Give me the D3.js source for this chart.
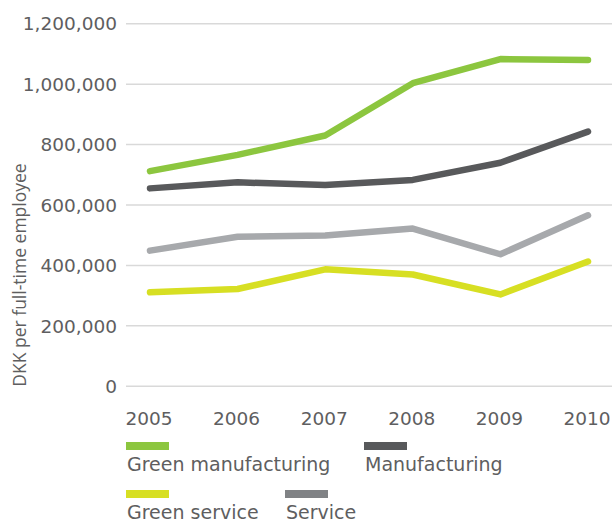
<!DOCTYPE html>
<html>
<head>
<meta charset="utf-8">
<script src="https://cdn.jsdelivr.net/npm/d3@7"></script>
<style>
  html, body { margin: 0; padding: 0; background: #fff; }
  svg { display: block; }
  text { font-family: "DejaVu Sans", sans-serif; fill: #5e5e60; }
</style>
</head>
<body>
<svg id="chart" width="614" height="522"></svg>
<script>
// Years on the x axis
const years = ["2005", "2006", "2007", "2008", "2009", "2010"];

// DKK per full-time employee, by sector
const greenManufacturing = [712000, 766000, 830000, 1003000, 1083000, 1080000];
const manufacturing      = [655000, 675000, 666000, 683000, 740000, 843000];
const service            = [449000, 495000, 499000, 522000, 437000, 566000];
const greenService       = [311000, 322000, 387000, 370000, 304000, 413000];

const yTicks = [0, 200000, 400000, 600000, 800000, 1000000, 1200000];

const seriesNames  = ["Green manufacturing", "Manufacturing", "Green service", "Service"];
const seriesValues = [greenManufacturing, manufacturing, greenService, service];
const lineColors   = ["#8cc63f", "#58595b", "#d7df23", "#a7a9ac"];
const swatchColors = ["#8cc63f", "#58595b", "#d7df23", "#808285"];

const svg = d3.select("#chart");

const x = d3.scalePoint().domain(years).range([150, 588]);
const y = d3.scaleLinear().domain([0, 1200000]).range([386.3, 23.7]);

// Horizontal gridlines
svg.append("g")
  .selectAll("line")
  .data(yTicks)
  .join("line")
  .attr("x1", 126).attr("x2", 612)
  .attr("y1", d => y(d)).attr("y2", d => y(d))
  .attr("stroke", "#d9d9d9")
  .attr("stroke-width", 1.5);

// Y tick labels
svg.append("g")
  .selectAll("text")
  .data(yTicks)
  .join("text")
  .attr("x", 117)
  .attr("y", d => y(d))
  .attr("dy", "0.36em")
  .attr("text-anchor", "end")
  .style("font-size", "18.5px")
  .text(d => d3.format(",")(d));

// X tick labels
svg.append("g")
  .selectAll("text")
  .data(years)
  .join("text")
  .attr("x", d => x(d) - 1)
  .attr("y", 425)
  .attr("text-anchor", "middle")
  .style("font-size", "18.5px")
  .text(d => d);

// Y axis title
svg.append("text")
  .attr("transform", "translate(26,275) rotate(-90)")
  .attr("text-anchor", "middle")
  .style("font-family", "'Open Sans', sans-serif")
  .style("font-size", "17.5px")
  .text("DKK per full-time employee");

// Series lines
const line = d3.line()
  .x((d, i) => x(years[i]))
  .y(d => y(d));

svg.append("g")
  .selectAll("path")
  .data(seriesValues)
  .join("path")
  .attr("d", d => line(d))
  .attr("fill", "none")
  .attr("stroke", (d, i) => lineColors[i])
  .attr("stroke-width", 6.5)
  .attr("stroke-linecap", "round")
  .attr("stroke-linejoin", "round");

// Legend: two rows of swatch + label
const legendPos = [
  { x: 126, y: 442 },
  { x: 364, y: 442 },
  { x: 126, y: 490 },
  { x: 285, y: 490 }
];

const legend = svg.append("g")
  .selectAll("g")
  .data(seriesNames)
  .join("g")
  .attr("transform", (d, i) => `translate(${legendPos[i].x},${legendPos[i].y})`);

legend.append("rect")
  .attr("width", 43)
  .attr("height", 8)
  .attr("fill", (d, i) => swatchColors[i]);

legend.append("text")
  .attr("x", 1)
  .attr("y", 29)
  .style("font-size", "19px")
  .text(d => d);
</script>
</body>
</html>
